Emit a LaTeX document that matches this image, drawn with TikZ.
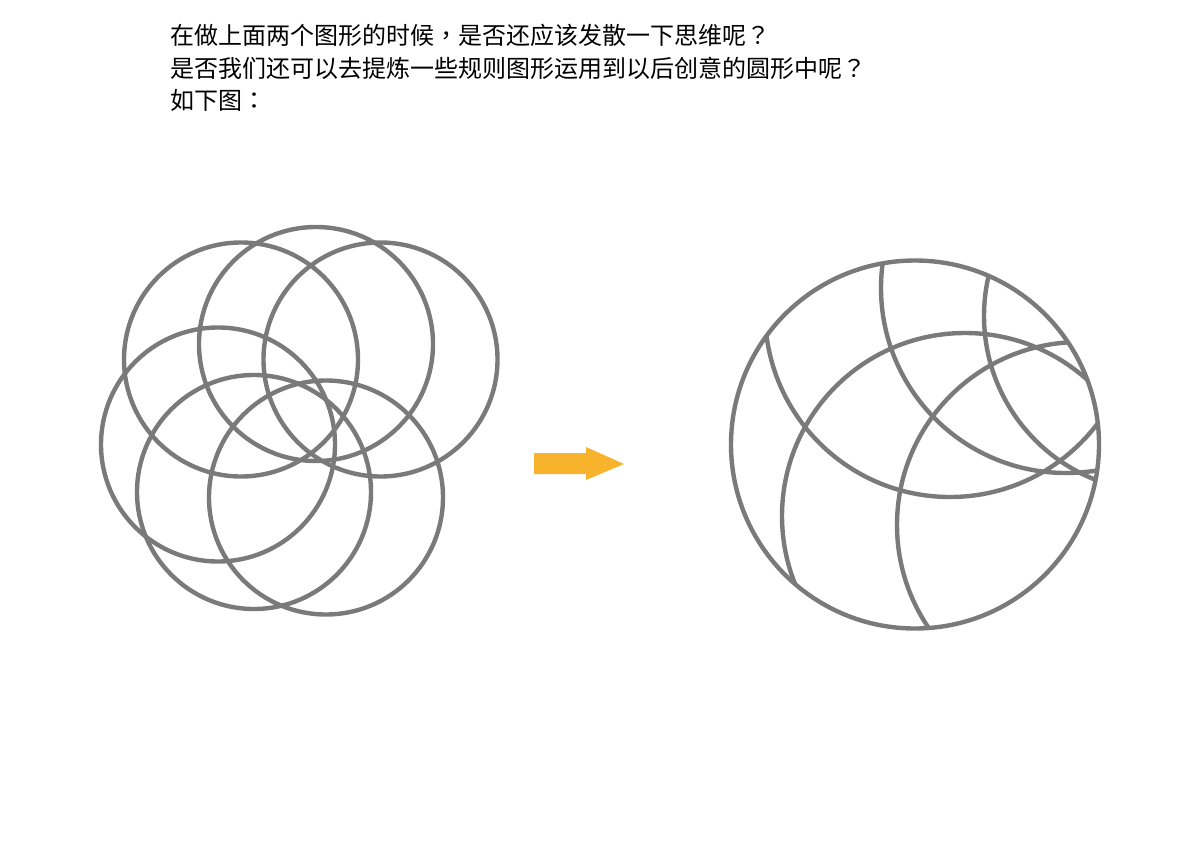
\documentclass[tikz,border=0pt]{standalone}
\usepackage{fontspec}
\newfontfamily\cjk{Noto Sans CJK SC}
\newfontfamily\cjkpunct{Noto Sans CJK TC}
\newcommand{\punct}[1]{{\cjkpunct #1}}
\definecolor{ringgray}{RGB}{122,122,122}
\definecolor{arroworange}{RGB}{247,179,43}

\begin{document}
\begin{tikzpicture}[x=0.5pt,y=-0.5pt]
  \tikzstyle{ring}=[draw=ringgray,line width=2.2pt]
  \tikzstyle{caption}=[anchor=base west,inner sep=0pt,font=\cjk\fontsize{12pt}{16pt}\selectfont]
  \useasboundingbox (0,0) rectangle (1200,851);
  \node[caption] (line1) at (170,45) {在做上面两个图形的时候\punct{，}是否还应该发散一下思维呢\punct{？}};
  \node[caption] (line2) at (170,77) {是否我们还可以去提炼一些规则图形运用到以后创意的圆形中呢\punct{？}};
  \node[caption] (line3) at (170,109) {如下图\punct{：}};
  % left: six overlapping rings
  \foreach \cx/\cy in {241/359.5, 316/344, 380.5/359.5, 218/444.5, 254/492, 326/497.5}
    \draw[ring] (\cx,\cy) circle [radius=117];
  % arrow
  \fill[arroworange] (534,453) -- (586,453) -- (586,447) -- (624,464)
    -- (586,480) -- (586,474) -- (534,474) -- cycle;
  % right: arcs inside one big ring
  \begin{scope}
    \clip (915,444.5) circle [radius=184];
    \foreach \cx/\cy/\r in {950/312/185, 965/516/183, 1066/288/185, 1160/316/176, 1080/525/183}
      \draw[ring] (\cx,\cy) circle [radius=\r];
  \end{scope}
  \draw[ring] (915,444.5) circle [radius=184];
\end{tikzpicture}
\end{document}
